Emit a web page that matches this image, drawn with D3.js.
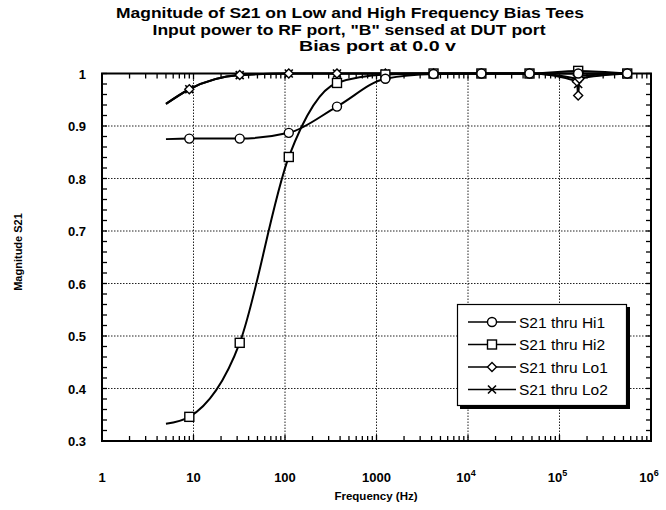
<!DOCTYPE html>
<html><head><meta charset="utf-8">
<script src="https://cdn.jsdelivr.net/npm/d3@7"></script>
<style>body{margin:0;background:#fff}svg{display:block}text{font-family:"Liberation Sans",Arial,sans-serif;fill:#000}</style>
</head><body>
<script>
const titleLines = ["Magnitude of S21 on Low and High Frequency Bias Tees", "Input power to RF port, \"B\" sensed at DUT port", "Bias port at 0.0 v"];
const xLabel = "Frequency (Hz)";
const yLabel = "Magnitude S21";
const xTickExp = [0, 1, 2, 3, 4, 5, 6];
const xTickText = ["1", "10", "100", "1000", "10", "10", "10"];
const xTickSup = ["", "", "", "", "4", "5", "6"];
const yTicks = [0.3, 0.4, 0.5, 0.6, 0.7, 0.8, 0.9, 1];
const yTickText = ["0.3", "0.4", "0.5", "0.6", "0.7", "0.8", "0.9", "1"];

const hiFreq = [5, 9, 32, 110, 370, 1250, 4200, 14000, 47000, 160000, 550000];
const hi1 = [0.875, 0.876, 0.876, 0.887, 0.937, 0.990, 0.999, 1.0, 1.0, 1.0, 1.0];
const hi2 = [0.333, 0.346, 0.487, 0.841, 0.982, 0.998, 1.0, 1.0, 1.0, 1.005, 1.0];
const loFreq = [5, 9, 32, 110, 370, 1250, 4200, 14000, 47000, 155000, 160000, 165000, 550000];
const lo1 = [0.942, 0.970, 0.997, 1.0, 1.0, 1.0, 1.0, 1.0, 1.0, 0.985, 0.958, 0.990, 1.0];
const lo2 = [0.942, 0.970, 0.997, 1.0, 1.0, 1.0, 1.0, 1.0, 1.0, 0.990, 0.980, 0.995, 1.0];
const seriesNames = ["S21 thru Hi1", "S21 thru Hi2", "S21 thru Lo1", "S21 thru Lo2"];
const seriesMarkers = ["circle", "square", "diamond", "cross"];

const series = [
  {name: seriesNames[0], marker: seriesMarkers[0], f: hiFreq, v: hi1},
  {name: seriesNames[1], marker: seriesMarkers[1], f: hiFreq, v: hi2},
  {name: seriesNames[2], marker: seriesMarkers[2], f: loFreq, v: lo1},
  {name: seriesNames[3], marker: seriesMarkers[3], f: loFreq, v: lo2}
];

const W = 666, H = 510;
const L = 102, R = 651, T = 73.5, B = 441;
const svg = d3.select("body").append("svg").attr("width", W).attr("height", H);
const x = d3.scaleLog().domain([1, 1e6]).range([L, R]);
const y = d3.scaleLinear().domain([0.3, 1]).range([B, T]);

// title
const tpos = [[350, 18, 468], [349, 34.5, 393], [377.5, 51, 157]];
titleLines.forEach((t, i) => {
  svg.append("text").attr("x", tpos[i][0]).attr("y", tpos[i][1]).attr("text-anchor", "middle")
    .attr("textLength", tpos[i][2]).attr("lengthAdjust", "spacingAndGlyphs")
    .style("font-size", "14.5px").style("font-weight", "bold").text(t);
});

// gridlines
const grid = svg.append("g").attr("stroke", "#222").attr("stroke-width", 1).attr("stroke-dasharray", "1.5,1.5");
xTickExp.slice(1, -1).forEach(e => {
  grid.append("line").attr("x1", x(Math.pow(10, e))).attr("x2", x(Math.pow(10, e))).attr("y1", T).attr("y2", B);
});
yTicks.slice(1, -1).forEach(v => {
  grid.append("line").attr("x1", L).attr("x2", R).attr("y1", y(v)).attr("y2", y(v));
});

// axes with inward ticks on all four sides
const minorX = [];
for (let e = 0; e < 6; e++) for (let k = 2; k <= 9; k++) minorX.push(k * Math.pow(10, e));
const minorY = d3.range(0.3, 1.0001, 0.02);
const ax = svg.append("g").attr("stroke", "#000").attr("stroke-width", 1.3);
minorX.forEach(f => {
  ax.append("line").attr("x1", x(f)).attr("x2", x(f)).attr("y1", B).attr("y2", B - 5);
  ax.append("line").attr("x1", x(f)).attr("x2", x(f)).attr("y1", T).attr("y2", T + 5);
});
xTickExp.forEach(e => {
  const px = x(Math.pow(10, e));
  ax.append("line").attr("x1", px).attr("x2", px).attr("y1", B).attr("y2", B - 6);
  ax.append("line").attr("x1", px).attr("x2", px).attr("y1", T).attr("y2", T + 6);
});
minorY.forEach(v => {
  ax.append("line").attr("x1", L).attr("x2", L + 5).attr("y1", y(v)).attr("y2", y(v));
  ax.append("line").attr("x1", R).attr("x2", R - 5).attr("y1", y(v)).attr("y2", y(v));
});
svg.append("rect").attr("x", L).attr("y", T).attr("width", R - L).attr("height", B - T)
  .attr("fill", "none").attr("stroke", "#000").attr("stroke-width", 2);

// tick labels
xTickExp.forEach((e, i) => {
  const t = svg.append("text").attr("x", x(Math.pow(10, e)) + (xTickSup[i] ? -2 : 0)).attr("y", 482)
    .attr("text-anchor", "middle").style("font-size", "13px").style("font-weight", "bold");
  t.append("tspan").text(xTickText[i]);
  if (xTickSup[i]) t.append("tspan").attr("dy", -6).style("font-size", "9px").text(xTickSup[i]);
});
yTicks.forEach((v, i) => {
  svg.append("text").attr("x", 86).attr("y", y(v) + 5).attr("text-anchor", "end")
    .style("font-size", "13px").style("font-weight", "bold").text(yTickText[i]);
});
svg.append("text").attr("x", 376).attr("y", 500).attr("text-anchor", "middle")
  .style("font-size", "11.5px").style("font-weight", "bold").text(xLabel);
svg.append("text").attr("transform", "translate(22,252) rotate(-90)").attr("text-anchor", "middle")
  .style("font-size", "11px").style("font-weight", "bold").text(yLabel);

// markers
function drawMarker(g, type, cx, cy) {
  if (type === "circle") g.append("circle").attr("cx", cx).attr("cy", cy).attr("r", 4.5).attr("fill", "#fff").attr("stroke", "#000").attr("stroke-width", 1.4);
  else if (type === "square") g.append("rect").attr("x", cx - 4.5).attr("y", cy - 4.5).attr("width", 9).attr("height", 9).attr("fill", "#fff").attr("stroke", "#000").attr("stroke-width", 1.4);
  else if (type === "diamond") g.append("path").attr("d", `M${cx},${cy - 4.5}L${cx + 4.5},${cy}L${cx},${cy + 4.5}L${cx - 4.5},${cy}Z`).attr("fill", "#fff").attr("stroke", "#000").attr("stroke-width", 1.4);
  else g.append("path").attr("d", `M${cx - 4},${cy - 4}L${cx + 4},${cy + 4}M${cx - 4},${cy + 4}L${cx + 4},${cy - 4}`).attr("stroke", "#000").attr("stroke-width", 1.6);
}

const line = d3.line().curve(d3.curveMonotoneX);
const plot = svg.append("g");
series.forEach(s => {
  const pts = s.f.map((f, i) => [x(f), y(s.v[i])]);
  plot.append("path").attr("d", line(pts)).attr("fill", "none").attr("stroke", "#000").attr("stroke-width", 2);
});
series.slice().reverse().forEach(s => {
  s.f.forEach((f, i) => { if (i > 0) drawMarker(plot, s.marker, x(f), y(s.v[i])); });
});

// legend
const lg = svg.append("g");
lg.append("rect").attr("x", 460).attr("y", 307).attr("width", 170).attr("height", 102).attr("fill", "#000");
lg.append("rect").attr("x", 457.5).attr("y", 304.5).attr("width", 169).attr("height", 101).attr("fill", "#fff").attr("stroke", "#000").attr("stroke-width", 1.2);
series.forEach((s, i) => {
  const yy = 322 + i * 22.5;
  lg.append("line").attr("x1", 468).attr("x2", 516).attr("y1", yy).attr("y2", yy).attr("stroke", "#000").attr("stroke-width", 1.6);
  drawMarker(lg, s.marker, 492, yy);
  lg.append("text").attr("x", 519).attr("y", yy + 5.5).style("font-size", "15.5px").text(s.name);
});
</script>
</body></html>
